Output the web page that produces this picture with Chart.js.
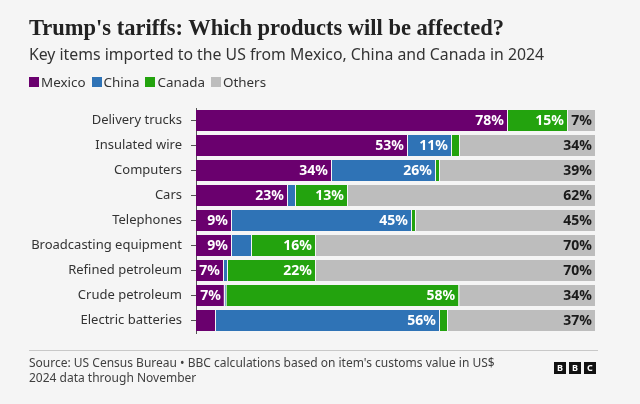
<!DOCTYPE html>
<html>
<head>
<meta charset="utf-8">
<script src="https://cdn.jsdelivr.net/npm/chart.js@4/dist/chart.umd.min.js"></script>
<style>
  html, body { margin: 0; padding: 0; background: #f5f5f5; }
  #wrap { position: relative; width: 640px; height: 404px; overflow: hidden; }
  #c { position: absolute; left: 0; top: 0; }
  #title { position: absolute; left: 29px; top: 14px; white-space: nowrap;
           font: bold 22.5px/27px "Liberation Serif", serif; color: #222; }
  #subtitle { position: absolute; left: 29px; top: 43px; white-space: nowrap;
              font: 15.8px/22px "Noto Sans", sans-serif; color: #333; }
  #legend { position: absolute; left: 29px; top: 74px; display: flex; align-items: center;
            font: 13.4px/16px "Noto Sans", sans-serif; color: #333; white-space: nowrap; }
  #legend .item { display: flex; align-items: center; margin-right: 6px; }
  #legend .box { width: 10px; height: 10px; margin-right: 2px; }
  #rule { position: absolute; left: 29px; top: 350px; width: 569px; height: 1px; background: #c8c8c8; }
  #src { position: absolute; left: 29px; top: 355px; font: 12px/15px "Noto Sans", sans-serif; color: #404040; white-space: nowrap; }
  .bbc { position: absolute; top: 362px; width: 12px; height: 12px; background: #111; color: #fff;
         font: bold 9px/12px "Noto Sans", sans-serif; text-align: center; }
</style>
</head>
<body>
<div id="wrap">
  <canvas id="c" width="640" height="404"></canvas>
  <div id="title">Trump's tariffs: Which products will be affected?</div>
  <div id="subtitle">Key items imported to the US from Mexico, China and Canada in 2024</div>
  <div id="legend"></div>
  <div id="rule"></div>
  <div id="src">Source: US Census Bureau • BBC calculations based on item's customs value in US$<br>2024 data through November</div>
  <div class="bbc" style="left:554px">B</div>
  <div class="bbc" style="left:569px">B</div>
  <div class="bbc" style="left:584px">C</div>
</div>
<script>
const categories = ["Delivery trucks", "Insulated wire", "Computers", "Cars", "Telephones",
  "Broadcasting equipment", "Refined petroleum", "Crude petroleum", "Electric batteries"];
const mexico = [78, 53, 34, 23, 9, 9, 7, 7.2, 5];
const china  = [0, 11, 26, 2, 45, 5, 1, 0.4, 56];
const canada = [15, 2, 1, 13, 1, 16, 22, 58.2, 2];
const others = [7, 34, 39, 62, 45, 70, 70, 34.2, 37];
const seriesNames = ["Mexico", "China", "Canada", "Others"];
const seriesColors = ["#6a006e", "#2f73b6", "#23a30e", "#bdbdbd"];

const FONT = "'Noto Sans', sans-serif";

// HTML legend built from the series arrays
const legendEl = document.getElementById('legend');
seriesNames.forEach((name, i) => {
  const item = document.createElement('div');
  item.className = 'item';
  const box = document.createElement('div');
  box.className = 'box';
  box.style.background = seriesColors[i];
  const txt = document.createElement('span');
  txt.textContent = name;
  item.appendChild(box);
  item.appendChild(txt);
  legendEl.appendChild(item);
});

const labelPlugin = {
  id: 'segLabels',
  afterDatasetsDraw(chart) {
    const ctx = chart.ctx;
    ctx.save();
    ctx.font = "bold 14px " + FONT;
    ctx.textAlign = 'right';
    ctx.textBaseline = 'middle';
    chart.data.datasets.forEach((ds, i) => {
      const meta = chart.getDatasetMeta(i);
      meta.data.forEach((el, j) => {
        const v = ds.data[j];
        if (v < 6) return;
        ctx.fillStyle = i === 3 ? '#1a1a1a' : '#ffffff';
        ctx.fillText(Math.round(v) + '%', el.x - 4, el.y + 1);
      });
    });
    ctx.restore();
  }
};

const allSeries = [mexico, china, canada, others];
new Chart(document.getElementById('c'), {
  type: 'bar',
  data: {
    labels: categories,
    datasets: allSeries.map((d, i) => ({
      label: seriesNames[i],
      data: d,
      backgroundColor: seriesColors[i],
      borderColor: 'rgba(245,245,245,0.9)',
      borderWidth: { left: 0, right: 1, top: 0, bottom: 0 },
      borderSkipped: false,
      barPercentage: 1,
      categoryPercentage: 0.84
    }))
  },
  options: {
    indexAxis: 'y',
    responsive: false,
    animation: false,
    layout: { padding: { left: 24, right: 44, top: 108, bottom: 71 } },
    scales: {
      x: {
        stacked: true, min: 0, max: 100,
        display: false
      },
      y: {
        stacked: true,
        ticks: { color: '#333', font: { size: 13, family: FONT }, padding: 9, autoSkip: false },
        grid: { display: true, drawOnChartArea: false, drawTicks: true, tickLength: 5, tickColor: '#555', offset: false },
        border: { display: true, color: '#555', width: 1 },
        afterFit(scale) { scale.width = 172; }
      }
    },
    plugins: {
      legend: { display: false },
      tooltip: { enabled: false }
    }
  },
  plugins: [labelPlugin]
});
</script>
</body>
</html>
